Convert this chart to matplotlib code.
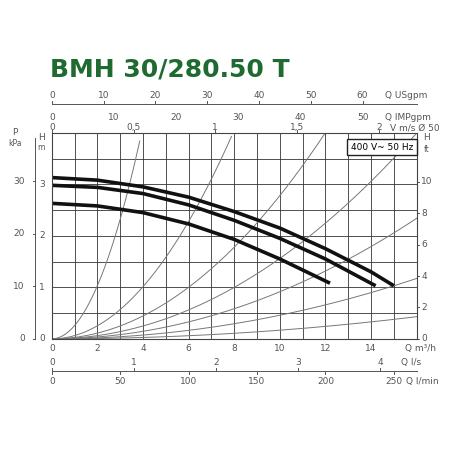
import numpy as np
import matplotlib.pyplot as plt

# pump curves (Q m3/h, H m)
q_top = [0, 2, 4, 6, 8, 10, 12, 14, 15]
h_top = [3.13, 3.08, 2.95, 2.75, 2.47, 2.15, 1.75, 1.3, 1.03]
q_mid = [0, 2, 4, 6, 8, 10, 12, 14.2]
h_mid = [2.98, 2.94, 2.82, 2.6, 2.3, 1.95, 1.55, 1.03]
q_low = [0, 2, 4, 6, 8, 10, 12.2]
h_low = [2.63, 2.58, 2.45, 2.23, 1.93, 1.55, 1.08]
# system curve coefficients H = k*Q^2
k_sys = [0.258, 0.0633, 0.0278, 0.0156, 0.00914, 0.00458, 0.00168]

usgpm_ticks = [0, 10, 20, 30, 40, 50, 60]
imp_ticks = [0, 10, 20, 30, 40, 50]
v_ticks = [0, 0.5, 1, 1.5, 2]
v_labels = ["0", "0,5", "1", "1,5", "2"]
ls_ticks = [0, 1, 2, 3, 4]
lmin_ticks = [0, 50, 100, 150, 200, 250]
kpa_ticks = [0, 10, 20, 30]
ft_ticks = [0, 2, 4, 6, 8, 10]

GREY = "#555555"
FS = 6.5

fig = plt.figure(figsize=(4.5, 4.5), dpi=100)
ax = fig.add_axes([0.115, 0.247, 0.811, 0.458])
ax.set_xlim(0, 16)
ax.set_ylim(0, 4)
ax.set_xticks(np.arange(0, 17, 1))
ax.set_yticks(np.arange(0, 4.01, 0.5))
ax.grid(True, color="#333333", linewidth=0.6)
ax.tick_params(length=0, labelleft=False, labelbottom=False)
for sp in ax.spines.values():
    sp.set_color("#444444")
    sp.set_linewidth(0.8)

for k in k_sys:
    q = np.linspace(0, 16, 200)
    h = k * q ** 2
    m = h <= 4
    ax.plot(q[m], h[m], color="#777777", lw=0.7)

for q, h in [(q_top, h_top), (q_mid, h_mid), (q_low, h_low)]:
    ax.plot(q, h, color="#111111", lw=2.6, solid_capstyle="butt")

ax.text(15.85, 3.72, "400 V~ 50 Hz", ha="right", va="center", fontsize=6.5,
        bbox=dict(facecolor="white", edgecolor="#222222", lw=1, pad=2.5))

# bottom m3/h labels
for v in range(0, 15, 2):
    ax.text(v, -0.1, str(v), ha="center", va="top", fontsize=FS, color=GREY, clip_on=False)
ax.text(15.5, -0.1, "Q m³/h", ha="left", va="top", fontsize=FS, color=GREY)

def scale(y, ticks, conv, labels=None, line=True, tick_dir=1, lab_dy=0.1, va="bottom"):
    if line:
        ax.plot([0, 16], [y, y], color=GREY, lw=0.7, clip_on=False)
    for i, t in enumerate(ticks):
        x = t / conv
        if line:
            ax.plot([x, x], [y, y + tick_dir * 0.06], color=GREY, lw=0.7, clip_on=False)
        lab = labels[i] if labels else str(t)
        ax.text(x, y + lab_dy, lab, ha="center", va=va, fontsize=FS, color=GREY)

# top scales
scale(4.55, usgpm_ticks, 4.403, lab_dy=0.08)
ax.text(14.6, 4.63, "Q USgpm", ha="left", va="bottom", fontsize=FS, color=GREY)
scale(4.29, imp_ticks, 3.666, line=False, lab_dy=0.0, va="center")
ax.text(14.6, 4.29, "Q IMPgpm", ha="left", va="center", fontsize=FS, color=GREY)
scale(4.1, v_ticks, 1 / 7.17, labels=v_labels, line=False, lab_dy=0.0, va="center")
ax.text(14.85, 4.1, "V m/s Ø 50", ha="left", va="center", fontsize=FS, color=GREY)
for t in v_ticks:
    ax.plot([t * 7.17] * 2, [4.0, 4.05], color=GREY, lw=0.7, clip_on=False)

# bottom scales
ax.plot([0, 16], [-0.62, -0.62], color=GREY, lw=0.7, clip_on=False)
for t in ls_ticks:
    ax.plot([t * 3.6] * 2, [-0.62, -0.56], color=GREY, lw=0.7, clip_on=False)
    ax.text(t * 3.6, -0.46, str(t), ha="center", va="center", fontsize=FS, color=GREY)
ax.text(15.3, -0.46, "Q l/s", ha="left", va="center", fontsize=FS, color=GREY)
for t in lmin_ticks:
    ax.plot([t * 0.06] * 2, [-0.62, -0.68], color=GREY, lw=0.7, clip_on=False)
    ax.text(t * 0.06, -0.82, str(t), ha="center", va="center", fontsize=FS, color=GREY)
ax.text(15.55, -0.82, "Q l/min", ha="left", va="center", fontsize=FS, color=GREY)

# left axes
for t in range(0, 4):
    ax.text(-0.3, t, str(t), ha="right", va="center", fontsize=FS, color=GREY)
ax.text(-0.3, 3.9, "H", ha="right", va="center", fontsize=FS, color=GREY)
ax.text(-0.3, 3.72, "m", ha="right", va="center", fontsize=FS - 1, color=GREY)
xp = -0.73
ax.plot([xp, xp], [0, 3.9], color=GREY, lw=0.7, clip_on=False)
for t in kpa_ticks:
    y = t / 9.81
    ax.plot([xp - 0.1, xp], [y, y], color=GREY, lw=0.7, clip_on=False)
    ax.text(xp - 0.45, y, str(t), ha="right", va="center", fontsize=FS, color=GREY)
ax.text(xp - 0.9, 4.0, "P", ha="center", va="center", fontsize=FS, color=GREY)
ax.text(xp - 0.9, 3.8, "kPa", ha="center", va="center", fontsize=FS - 1, color=GREY)

# right ft axis
for t in ft_ticks:
    y = t * 0.3048
    ax.plot([16, 16.12], [y, y], color=GREY, lw=0.7, clip_on=False)
    ax.text(16.2, y, str(t), ha="left", va="center", fontsize=FS, color=GREY)
ax.text(16.3, 3.9, "H", ha="left", va="center", fontsize=FS, color=GREY)
ax.text(16.3, 3.68, "ft", ha="left", va="center", fontsize=FS - 1, color=GREY)

fig.text(0.11, 0.845, "BMH 30/280.50 T", fontsize=18, fontweight="bold",
         color="#1f6a30", ha="left", va="center")

fig.savefig("out.png", dpi=100, facecolor="white")
